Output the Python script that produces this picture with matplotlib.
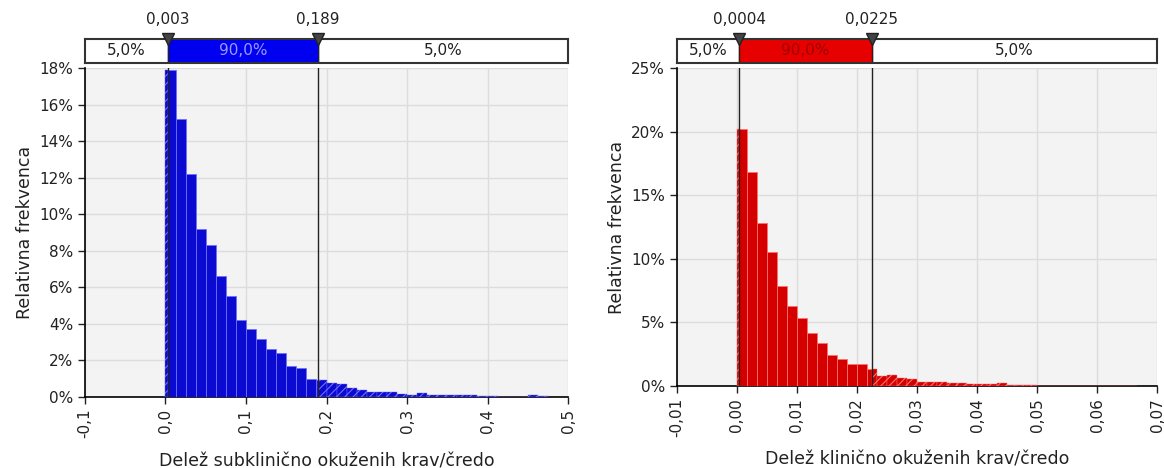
# -*- coding: utf-8 -*-
import matplotlib
matplotlib.use('Agg')
import matplotlib.pyplot as plt
from matplotlib.ticker import FuncFormatter, MultipleLocator


# relative frequencies (%) per histogram bin, bins start at 0
SUB_BIN = 0.0125
SUB_FREQ = [
    17.9, 15.2, 12.2, 9.2, 8.3, 6.6, 5.5, 4.2,
    3.7, 3.2, 2.6, 2.4, 1.7, 1.6, 1.0, 0.95,
    0.75, 0.7, 0.5, 0.37, 0.28, 0.25, 0.27, 0.15,
    0.1, 0.2, 0.1, 0.1, 0.1, 0.1, 0.1, 0.08,
    0.03, 0.02, 0.02, 0.02, 0.1, 0.03, 0.0, 0.0,
]
SUB_BOUNDS = (0.003, 0.189)
SUB_BOUND_LABELS = ['0,003', '0,189']
SUB_SHARES = ['5,0%', '90,0%', '5,0%']

CLI_BIN = 0.01 / 6
CLI_FREQ = [
    20.2, 16.8, 12.8, 10.5, 7.9, 6.3, 5.35, 4.2,
    3.35, 2.45, 2.1, 1.73, 1.73, 1.36, 0.8, 0.85,
    0.6, 0.55, 0.35, 0.3, 0.3, 0.27, 0.2, 0.15,
    0.12, 0.12, 0.2, 0.05, 0.04, 0.04, 0.03, 0.03,
    0.03, 0.02, 0.02, 0.02, 0.02, 0.02, 0.02, 0.02,
]
CLI_BOUNDS = (0.0004, 0.0225)
CLI_BOUND_LABELS = ['0,0004', '0,0225']
CLI_SHARES = ['5,0%', '90,0%', '5,0%']

plt.rcParams['font.family'] = 'DejaVu Sans'
plt.rcParams['hatch.linewidth'] = 0.8

TICK_SIZE = 11
LABEL_SIZE = 12.5


def comma(fmt):
    return FuncFormatter(lambda v, pos: (fmt % v).replace('.', ','))


def panel(fig, rect, freq, width, bounds, bound_labels, shares,
          xlim, xstep, xfmt, ylim, ystep, xlabel,
          color, light, band_color, band_text):
    left, bottom, w, h = rect
    ax = fig.add_axes(rect)
    ax.set_facecolor('#f3f3f3')
    lo, hi = bounds

    for i, f in enumerate(freq):
        if f <= 0:
            continue
        l = i * width
        r = l + width
        # part inside the 90% interval: solid
        sl, sr = max(l, lo), min(r, hi)
        if sr > sl:
            ax.bar(sl, f / 100, width=sr - sl, align='edge', color=color,
                   edgecolor=light, linewidth=0.6, zorder=3)
        # tails: hatched
        for tl, tr in ((l, min(r, lo)), (max(l, hi), r)):
            if tr > tl:
                ax.bar(tl, f / 100, width=tr - tl, align='edge', color=color,
                       edgecolor=light, linewidth=0.3, hatch='////', zorder=3)

    for b in bounds:
        ax.axvline(b, color='#222222', lw=1.0, zorder=4)

    ax.set_xlim(*xlim)
    ax.set_ylim(*ylim)
    ax.xaxis.set_major_locator(MultipleLocator(xstep))
    ax.yaxis.set_major_locator(MultipleLocator(ystep))
    ax.xaxis.set_major_formatter(comma(xfmt))
    ax.yaxis.set_major_formatter(FuncFormatter(lambda v, pos: '%d%%' % round(v * 100)))
    ax.grid(True, color='#dcdcdc', lw=1.0, zorder=0)
    ax.set_axisbelow(True)
    for s in ('top', 'right'):
        ax.spines[s].set_visible(False)
    for s in ('left', 'bottom'):
        ax.spines[s].set_linewidth(1.2)
    ax.tick_params(direction='out', length=5, width=1, labelsize=TICK_SIZE,
                   colors='#222222')
    for t in ax.get_xticklabels():
        t.set_rotation(90)
    ax.set_ylabel('Relativna frekvenca', fontsize=LABEL_SIZE, color='#222222')
    ax.set_xlabel(xlabel, fontsize=LABEL_SIZE, color='#222222', labelpad=10)

    # probability band above the plot
    band = fig.add_axes([left, 0.8654, w, 0.0513])
    band.set_xlim(*xlim)
    band.set_ylim(0, 1)
    band.set_xticks([])
    band.set_yticks([])
    for s in band.spines.values():
        s.set_linewidth(1.5)
        s.set_color('#333333')
    band.axvspan(lo, hi, color=band_color, zorder=1)
    for b in bounds:
        band.axvline(b, color='#222222', lw=1.0, zorder=2)
    centers = [(xlim[0] + lo) / 2, (lo + hi) / 2, (hi + xlim[1]) / 2]
    tcols = ['#222222', band_text, '#222222']
    for c, s, tc in zip(centers, shares, tcols):
        band.text(c, 0.5, s, ha='center', va='center', fontsize=TICK_SIZE,
                  color=tc, zorder=3)
    band.plot(bounds, [1.0, 1.0], linestyle='none', marker='v',
              markersize=8, color='#444444', markeredgecolor='#222222',
              clip_on=False, zorder=5)
    for b, s in zip(bounds, bound_labels):
        band.text(b, 1.5, s, ha='center', va='bottom', fontsize=TICK_SIZE,
                  color='#222222')
    return ax


fig = plt.figure(figsize=(11.64, 4.68), dpi=100)

panel(fig, [0.0730, 0.1517, 0.4150, 0.7030], SUB_FREQ, SUB_BIN, SUB_BOUNDS,
      SUB_BOUND_LABELS, SUB_SHARES, (-0.1, 0.5), 0.1, '%.1f', (0, 0.18), 0.02,
      'Delež subklinično okuženih krav/čredo',
      '#0a0ad0', '#6f6fff', '#0000f0', '#9a9aff')

panel(fig, [0.5816, 0.1752, 0.4124, 0.6795], CLI_FREQ, CLI_BIN, CLI_BOUNDS,
      CLI_BOUND_LABELS, CLI_SHARES, (-0.01, 0.07), 0.01, '%.2f', (0, 0.25), 0.05,
      'Delež klinično okuženih krav/čredo',
      '#d40000', '#ff7070', '#e60000', '#a00000')

fig.savefig('out.png', dpi=100)
